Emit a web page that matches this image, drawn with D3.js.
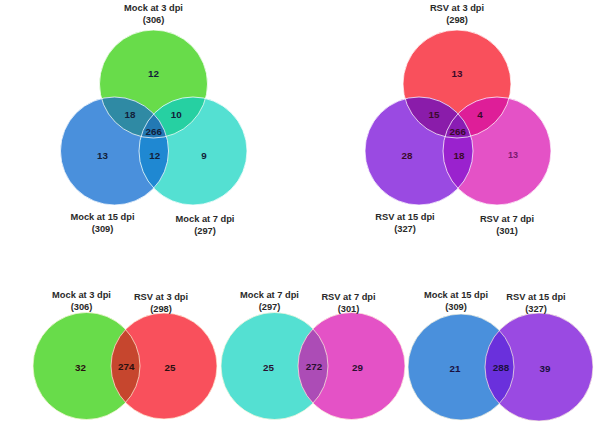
<!DOCTYPE html>
<html>
<head>
<meta charset="utf-8">
<script src="https://cdn.jsdelivr.net/npm/d3@7"></script>
<style>
  html, body { margin: 0; padding: 0; background: #fff; }
  svg { display: block; }
  text { font-family: "Liberation Sans", Arial, sans-serif; font-weight: bold; }
</style>
</head>
<body>
<svg id="chart" width="611" height="428"></svg>
<script>
// ---------- DATA ----------
// Three-set Venn diagrams: sets in order [A (top), B (bottom-left), C (bottom-right)]
const mockTripleNames = ["Mock at 3 dpi", "Mock at 15 dpi", "Mock at 7 dpi"];
const mockTripleSizes = [306, 309, 297];
// region counts in order: A only, B only, C only, A∩B, A∩C, B∩C, A∩B∩C
const mockTripleCounts = [12, 13, 9, 18, 10, 12, 266];

const rsvTripleNames = ["RSV at 3 dpi", "RSV at 15 dpi", "RSV at 7 dpi"];
const rsvTripleSizes = [298, 327, 301];
const rsvTripleCounts = [13, 28, 13, 15, 4, 18, 266];

// Two-set Venn diagrams: [left, right]
const pairNames = [["Mock at 3 dpi", "RSV at 3 dpi"], ["Mock at 7 dpi", "RSV at 7 dpi"], ["Mock at 15 dpi", "RSV at 15 dpi"]];
const pairSizes = [[306, 298], [297, 301], [309, 327]];
// counts: left only, both, right only
const pairCounts = [[32, 274, 25], [25, 272, 29], [21, 288, 39]];

// ---------- STYLE ----------
const COL = {
  mock3: "#68dc4a", mock7: "#54e0d2", mock15: "#4a90dc",
  rsv3: "#f9505c", rsv7: "#e452c6", rsv15: "#9a4ae2"
};
const R = 54;
const svg = d3.select("#chart");
const defs = svg.append("defs");
let clipId = 0;
function clipCircle(c) {
  const id = "clip" + (clipId++);
  defs.append("clipPath").attr("id", id).append("circle").attr("cx", c.x).attr("cy", c.y).attr("r", c.r);
  return id;
}
function label(g, x, y, lines) {
  const t = g.append("text").attr("text-anchor", "middle").attr("font-size", 9.3).attr("fill", "#2a2a2a");
  lines.forEach((l, i) => t.append("tspan").attr("x", x).attr("y", y + i * 12).text(l));
}
function num(g, x, y, v, opts = {}) {
  g.append("text").attr("x", x).attr("y", y).attr("dy", "0.36em")
    .attr("text-anchor", "middle")
    .attr("font-size", opts.size || 9.8)
    .attr("font-weight", opts.weight || "bold")
    .attr("fill", opts.fill || "#16203a")
    .text(v);
}

// ---------- THREE-SET ----------
function triple(cfg) {
  const g = svg.append("g");
  const [A, B, C] = cfg.circles;
  const cols = cfg.colors;
  // base circles
  [A, B, C].forEach((c, i) => g.append("circle").attr("cx", c.x).attr("cy", c.y).attr("r", c.r).attr("fill", cols[i]));
  // pairwise overlaps
  const pairs = [[A, B, cols[3]], [A, C, cols[4]], [B, C, cols[5]]];
  pairs.forEach(([p, q, col]) => {
    g.append("circle").attr("cx", p.x).attr("cy", p.y).attr("r", p.r).attr("fill", col)
      .attr("clip-path", `url(#${clipCircle(q)})`);
  });
  // triple overlap
  const gAB = g.append("g").attr("clip-path", `url(#${clipCircle(A)})`);
  gAB.append("circle").attr("cx", B.x).attr("cy", B.y).attr("r", B.r).attr("fill", cols[6])
    .attr("clip-path", `url(#${clipCircle(C)})`);
  // thin light outlines
  [A, B, C].forEach(c => g.append("circle").attr("cx", c.x).attr("cy", c.y).attr("r", c.r)
    .attr("fill", "none").attr("stroke", "#fff").attr("stroke-opacity", 0.75).attr("stroke-width", 1));

  const cnt = cfg.counts;
  const tf = cfg.textFill;
  num(g, A.x, A.y - 11, cnt[0], { fill: tf });
  num(g, B.x - 12, B.y + 4, cnt[1], { fill: tf });
  num(g, C.x + (cfg.cOnlyDx || 11), C.y + 4, cnt[2], cfg.cOnlyOpts || { fill: tf });
  num(g, (A.x + B.x) / 2 - 4, (A.y + B.y) / 2 - 3, cnt[3], { fill: tf });
  num(g, (A.x + C.x) / 2 + 3, (A.y + C.y) / 2 - 3, cnt[4], { fill: tf });
  num(g, (B.x + C.x) / 2 + 1, (B.y + C.y) / 2 + 4, cnt[5], { fill: tf });
  num(g, (A.x + B.x + C.x) / 3, (A.y + B.y + C.y) / 3 + 3, cnt[6], { fill: tf });

  label(g, A.x, 11, [cfg.names[0], "(" + cfg.sizes[0] + ")"]);
  label(g, B.x + cfg.bLabelDx, 220, [cfg.names[1], "(" + cfg.sizes[1] + ")"]);
  label(g, C.x + cfg.cLabelDx, 222, [cfg.names[2], "(" + cfg.sizes[2] + ")"]);
}

triple({
  circles: [{ x: 153.5, y: 84, r: R }, { x: 114.5, y: 151, r: R }, { x: 193, y: 151, r: R }],
  colors: [COL.mock3, COL.mock15, COL.mock7, "#2f8aa4", "#26d0a2", "#1f88d2", "#2379b4"],
  names: mockTripleNames, sizes: mockTripleSizes, counts: mockTripleCounts,
  textFill: "#12203a", bLabelDx: -12, cLabelDx: 12
});
triple({
  circles: [{ x: 457, y: 84, r: R }, { x: 419, y: 151, r: R }, { x: 497, y: 151, r: R }],
  colors: [COL.rsv3, COL.rsv15, COL.rsv7, "#8a1caa", "#de1e98", "#9a22ce", "#8a1cb4"],
  names: rsvTripleNames, sizes: rsvTripleSizes, counts: rsvTripleCounts,
  textFill: "#3a0a2a", bLabelDx: -14, cLabelDx: 10,
  cOnlyDx: 16, cOnlyOpts: { fill: "#7a1a6e", weight: "normal", size: 9 }
});

// ---------- TWO-SET ----------
const pairGeom = [
  { L: { x: 86.5, y: 366, r: 53.5 }, Rt: { x: 164, y: 366, r: 53 }, cols: [COL.mock3, COL.rsv3, "#c6462e"] },
  { L: { x: 274.5, y: 366, r: 53.5 }, Rt: { x: 351.5, y: 366, r: 53.5 }, cols: [COL.mock7, COL.rsv7, "#ac4cb6"] },
  { L: { x: 461, y: 367, r: 53 }, Rt: { x: 539, y: 367, r: 54 }, cols: [COL.mock15, COL.rsv15, "#6a30dc"] }
];
pairGeom.forEach((pg, i) => {
  const g = svg.append("g");
  const { L, Rt, cols } = pg;
  g.append("circle").attr("cx", L.x).attr("cy", L.y).attr("r", L.r).attr("fill", cols[0]);
  g.append("circle").attr("cx", Rt.x).attr("cy", Rt.y).attr("r", Rt.r).attr("fill", cols[1]);
  g.append("circle").attr("cx", L.x).attr("cy", L.y).attr("r", L.r).attr("fill", cols[2])
    .attr("clip-path", `url(#${clipCircle(Rt)})`);
  [L, Rt].forEach(c => g.append("circle").attr("cx", c.x).attr("cy", c.y).attr("r", c.r)
    .attr("fill", "none").attr("stroke", "#fff8e0").attr("stroke-opacity", 0.7).attr("stroke-width", 1));
  const tf = i === 0 ? "#2a1010" : (i === 1 ? "#2a1030" : "#1a1040");
  const c = pairCounts[i];
  num(g, L.x - 6, L.y + 1, c[0], { fill: tf });
  num(g, (L.x + Rt.x) / 2 + 1, L.y, c[1], { fill: tf });
  num(g, Rt.x + 6, Rt.y + 1, c[2], { fill: tf });
  label(g, L.x - 5, 298, [pairNames[i][0], "(" + pairSizes[i][0] + ")"]);
  label(g, Rt.x - 3, 300, [pairNames[i][1], "(" + pairSizes[i][1] + ")"]);
});
</script>
</body>
</html>
